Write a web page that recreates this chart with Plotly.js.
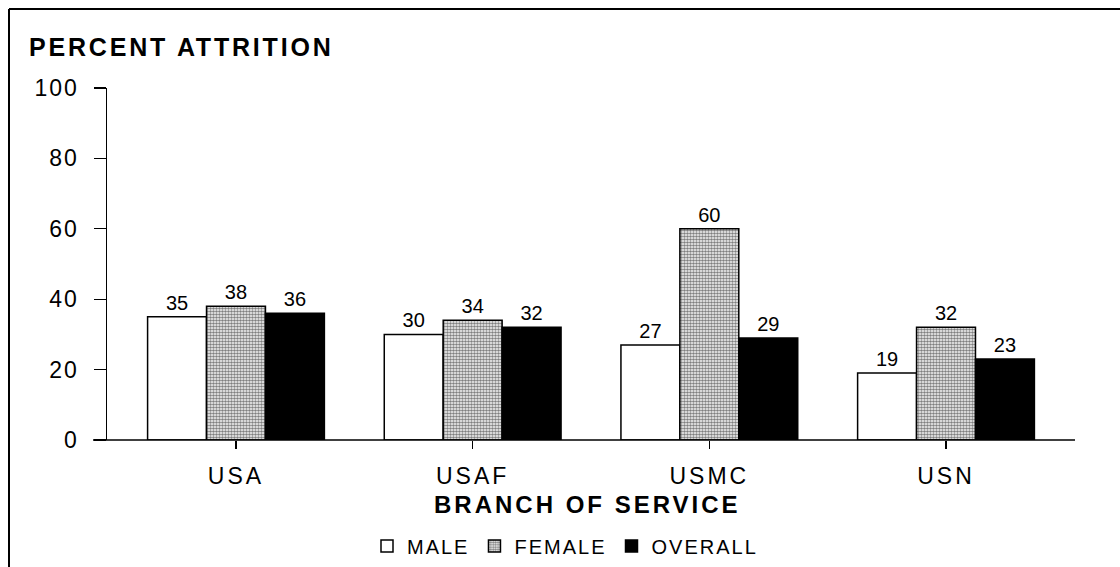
<!DOCTYPE html>
<html>
<head>
<meta charset="utf-8">
<script src="https://cdn.plot.ly/plotly-3.0.1.min.js"></script>
<style>
  html, body { margin: 0; padding: 0; background: #fff; }
  #chart { width: 1120px; height: 567px; }
  .ytick text { letter-spacing: 2px; }
  .xtick text { letter-spacing: 3px; }
  .gtitle { letter-spacing: 2.8px; }
  .annotation-text { letter-spacing: 3px; }
  .legendtext { letter-spacing: 2px; }
</style>
</head>
<body>
<div id="chart"></div>
<script>
const categories = ["USA", "USAF", "USMC", "USN"];
const maleValues = [35, 30, 27, 19];
const femaleValues = [38, 34, 60, 32];
const overallValues = [36, 32, 29, 23];
const yTickValues = [0, 20, 40, 60, 80, 100];

const FONT = "Liberation Sans, Arial, Helvetica, sans-serif";
const lineStyle = { color: "#000", width: 1.5 };
const textCommon = {
  texttemplate: "%{y}",
  textposition: "outside",
  textfont: { family: FONT, size: 20, color: "#000" },
  cliponaxis: false,
  hoverinfo: "skip"
};

const traces = [
  Object.assign({
    type: "bar", name: "MALE", x: categories, y: maleValues,
    marker: { color: "#ffffff", line: lineStyle }
  }, textCommon),
  Object.assign({
    type: "bar", name: "FEMALE", x: categories, y: femaleValues,
    marker: {
      color: "#ffffff", line: lineStyle,
      pattern: { shape: ".", fgcolor: "#000", bgcolor: "#ffffff", size: 3, solidity: 0.6, fillmode: "overlay" }
    }
  }, textCommon),
  Object.assign({
    type: "bar", name: "OVERALL", x: categories, y: overallValues,
    marker: { color: "#000000", line: lineStyle }
  }, textCommon)
];

const plotW = 968, plotH = 352, plotLeft = 107, plotTop = 88;
const px = v => (v - plotLeft) / plotW;
const py = v => 1 - (v - plotTop) / plotH;

const layout = {
  width: 1120, height: 567,
  margin: { l: 107, r: 45, t: 88, b: 127, pad: 0, autoexpand: false },
  paper_bgcolor: "#fff", plot_bgcolor: "#fff",
  font: { family: FONT, color: "#000" },
  barmode: "group",
  bargap: 0.253,
  bargroupgap: 0,
  showlegend: true,
  title: {
    text: "<b>PERCENT ATTRITION</b>",
    font: { family: FONT, size: 25, color: "#000" },
    xref: "container", yref: "container",
    x: 29 / 1120, xanchor: "left",
    y: 1 - 47 / 567, yanchor: "middle"
  },
  xaxis: {
    range: [-0.545, 3.545],
    showgrid: false, zeroline: false, showline: false,
    ticks: "outside", ticklen: 8, tickwidth: 1.2, tickcolor: "#000",
    ticklabelstandoff: 7,
    tickfont: { family: FONT, size: 23, color: "#000" },
    fixedrange: true
  },
  yaxis: {
    range: [0, 100],
    tickvals: yTickValues,
    showgrid: false, zeroline: false,
    showline: true, linecolor: "#000", linewidth: 1.5,
    ticks: "outside", ticklen: 12, tickwidth: 1.2, tickcolor: "#000",
    ticklabelstandoff: 10,
    tickfont: { family: FONT, size: 23, color: "#000" },
    fixedrange: true
  },
  legend: {
    orientation: "h",
    x: px(565), xanchor: "center",
    y: py(546), yanchor: "middle",
    font: { family: FONT, size: 20, color: "#000" },
    itemwidth: 30,
    traceorder: "normal",
    bgcolor: "rgba(0,0,0,0)"
  },
  annotations: [{
    text: "<b>BRANCH OF SERVICE</b>",
    xref: "paper", yref: "paper",
    x: px(587), y: py(504), xanchor: "center", yanchor: "middle",
    showarrow: false,
    font: { family: FONT, size: 24, color: "#000" }
  }],
  shapes: [
    { type: "line", xref: "paper", yref: "paper", x0: px(93), x1: 1, y0: 0, y1: 0,
      line: { color: "#000", width: 1.5 } },
    { type: "line", xref: "paper", yref: "paper", x0: px(9), x1: px(1125), y0: py(9), y1: py(9),
      line: { color: "#000", width: 2 } },
    { type: "line", xref: "paper", yref: "paper", x0: px(9), x1: px(9), y0: py(9), y1: py(575),
      line: { color: "#000", width: 2 } }
  ]
};

Plotly.newPlot("chart", traces, layout, { displayModeBar: false, staticPlot: true });
</script>
</body>
</html>
